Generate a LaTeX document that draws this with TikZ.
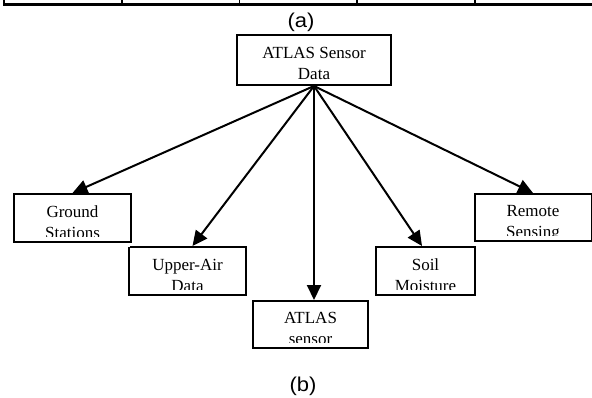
\documentclass[tikz,border=0pt]{standalone}
\usepackage{fontspec}
\setmainfont{Liberation Serif}
\newfontfamily\capfont{Liberation Sans}[FakeStretch=1.1]
\usetikzlibrary{arrows.meta,positioning}
% pushes the first line down inside a box
\newcommand\boxstrut[1][19pt]{\rule{0pt}{#1}}
\tikzset{
    % boxes of the data tree
    databox/.style={
        draw,
        line width=2pt,
        minimum width=117pt,
        minimum height=48pt,
        inner sep=0pt,
        align=center,
        text depth=0pt,
        font=\fontsize{17}{21}\selectfont
    },
    blackarrow/.style={
        line width=2pt,
        black,
        -{Triangle[length=15pt, width=14pt]}
    },
    caption/.style={
        font=\capfont\fontsize{20}{20}\selectfont
    }
}
\begin{document}
\begin{tikzpicture}[x=1pt,y=-1pt]
\useasboundingbox (0,0) rectangle (592,397);

% table edge of (a)
\draw[line width=2.2pt] (3,4.5) -- (592,4.5);
\draw[line width=2pt] (3.5,0) -- (3.5,5);
\foreach \x in {122,239.5,357,475}
    \draw[line width=1.3pt] (\x,0) -- (\x,4.5);
\node[caption] (capa) at (301,22) {(a)};

% root
\node[databox, minimum width=154pt, minimum height=50pt] (root) at (314,60) {\boxstrut[18.5pt]ATLAS Sensor\\Data};

% leaves
\node[databox] (ground) at (72.5,218) {\boxstrut Ground\\Stations};
\node[databox] (upper) at (187.5,271) {\boxstrut Upper-Air\\Data};
\node[databox, minimum width=115pt, minimum height=47pt] (atlas) at (310.5,324.5) {\boxstrut[18pt]ATLAS\\sensor};
\node[databox, minimum width=99pt] (soil) at (425.5,271) {\boxstrut Soil\\Moisture};
\node[databox, minimum height=47pt] (remote) at (533,217.5) {\boxstrut[18pt]Remote\\Sensing};

% cut off last lines
\foreach \n in {ground,upper,atlas,soil,remote}{
    \fill[white] ([shift={(2.2pt,-4pt)}]\n.south west) rectangle ([shift={(-2.2pt,5.7pt)}]\n.south east);
    \draw[line width=2pt] ([shift={(1pt,1pt)}]\n.south west) -- ([shift={(-1pt,1pt)}]\n.south east);
}

% arrows
\draw[blackarrow] (root.south) -- (ground.north);
\draw[blackarrow] (root.south) -- ([xshift=5pt]upper.north);
\draw[blackarrow] (root.south) -- (root.south |- atlas.north);
\draw[blackarrow] (root.south) -- ([xshift=-3.5pt]soil.north);
\draw[blackarrow] (root.south) -- (remote.north);

\node[caption] (capb) at (303,386) {(b)};
\end{tikzpicture}
\end{document}
